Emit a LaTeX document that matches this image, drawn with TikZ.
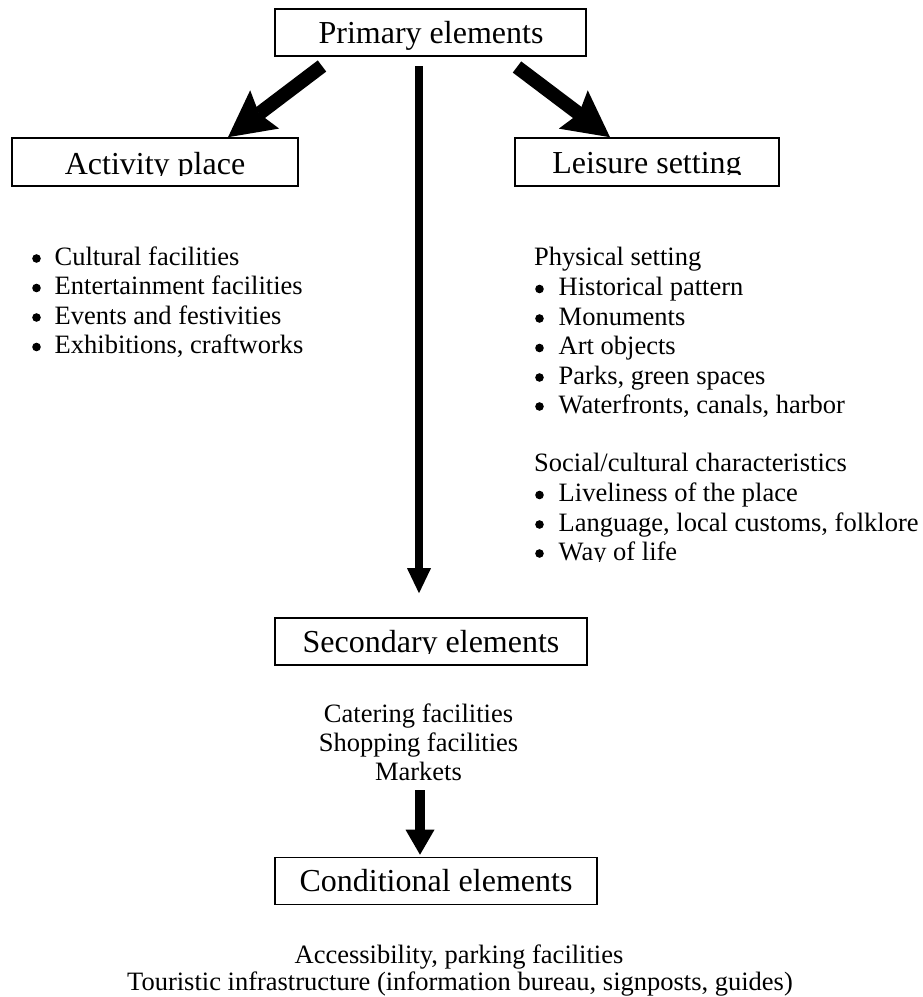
\documentclass[tikz,border=0pt]{standalone}
\usepackage{fontspec}
\setmainfont{Liberation Serif}
\usetikzlibrary{arrows.meta,calc}

\begin{document}
\begin{tikzpicture}[x=1pt,y=-1pt,
  box/.style={draw, line width=1.6pt, inner sep=0pt},
  title/.style={font=\fontsize{32}{32}\selectfont, inner sep=0pt, anchor=base},
  body/.style={font=\fontsize{26.5}{29.5}\selectfont, inner sep=0pt, anchor=base west},
  centre/.style={font=\fontsize{26.5}{29.5}\selectfont, inner sep=0pt, anchor=base},
  dot/.style={fill=black},
  bigarrow/.style={line width=14pt, -{Stealth[length=46pt, width=48pt, inset=7pt, line width=0pt]}},
  thinarrow/.style={line width=8pt, -{Triangle[length=25pt, width=24pt, line width=0pt]}},
  lowarrow/.style={line width=10pt, -{Triangle[length=25pt, width=29pt, line width=0pt]}},
]
\useasboundingbox (0,0) rectangle (923,997);

% boxes
\node[box, minimum width=311pt, minimum height=47pt] (prim) at (430.5,32.5) {};
\node[box, minimum width=286pt, minimum height=48pt] (act)  at (155,162) {};
\node[box, minimum width=264pt, minimum height=48pt] (leis) at (647,162) {};
\node[box, minimum width=312pt, minimum height=47pt] (sec)  at (431,641.5) {};
\node[box, minimum width=322pt, minimum height=47pt] (cond) at (436,881) {};

% box labels (some are cut off at the baseline)
\node[title] (primtext) at (431,43) {Primary elements};
\begin{scope}
  \clip (act.north west) rectangle (act.east |- 0,175.5);
  \node[title] (acttext) at (155,174) {Activity place};
\end{scope}
\begin{scope}
  \clip (leis.north west) rectangle (leis.east |- 0,174.5);
  \node[title] (leistext) at (647,173) {Leisure setting};
\end{scope}
\begin{scope}
  \clip (sec.north west) rectangle (sec.east |- 0,653.5);
  \node[title] (sectext) at (431,652) {Secondary elements};
\end{scope}
\node[title] (condtext) at (436,891) {Conditional elements};

% activity place list
\foreach \t/\y [count=\i] in {Cultural facilities/265, Entertainment facilities/294.5,
    Events and festivities/324, {Exhibitions, craftworks}/353.5} {
  \node[body] (act\i) at (54.5,\y) {\t};
  \fill[dot] ([shift={(-18pt,6.5pt)}]act\i.base west) circle (4.3pt);
}

% leisure setting lists
\node[body] (phys) at (534,265) {Physical setting};
\foreach \t/\y [count=\i] in {Historical pattern/295.5, Monuments/325, Art objects/354.5,
    {Parks, green spaces}/384, {Waterfronts, canals, harbor}/413} {
  \node[body] (ph\i) at (558.5,\y) {\t};
  \fill[dot] ([shift={(-19pt,6.5pt)}]ph\i.base west) circle (4.3pt);
}
\node[body] (soc) at (534,471) {Social/cultural characteristics};
\foreach \t/\y [count=\i] in {Liveliness of the place/501.5, {Language, local customs, folklore}/531} {
  \node[body] (so\i) at (558.5,\y) {\t};
  \fill[dot] ([shift={(-19pt,6.5pt)}]so\i.base west) circle (4.3pt);
}
\begin{scope}
  \clip (520,530) rectangle (923,561);
  \node[body] (so3) at (558.5,560) {Way of life};
\end{scope}
\fill[dot] ([shift={(-19pt,6.5pt)}]so3.base west) circle (4.3pt);

% secondary elements list
\node[centre] (cat)  at (418.5,722) {Catering facilities};
\node[centre] (shop) at (418.5,751) {Shopping facilities};
\node[centre] (mark) at (418.5,780) {Markets};

% conditional elements list
\node[centre] (acc)  at (459,963) {Accessibility, parking facilities};
\node[centre] (tour) at (460,990) {Touristic infrastructure (information bureau, signposts, guides)};

% connectors
\coordinate (tailL) at (322,66);
\coordinate (tailR) at (517,67);
\coordinate (tailC) at (419,66);
\coordinate (tailD) at (420,790);
\draw[bigarrow] (tailL) -- ([xshift=73pt]act.north);
\draw[bigarrow] (tailR) -- ([xshift=-37pt]leis.north);
\draw[thinarrow] (tailC) -- ($(tailC |- sec.north)+(0,-24)$);
\draw[lowarrow] (tailD) -- ($(tailD |- cond.north)+(0,-2)$);
\end{tikzpicture}
\end{document}
